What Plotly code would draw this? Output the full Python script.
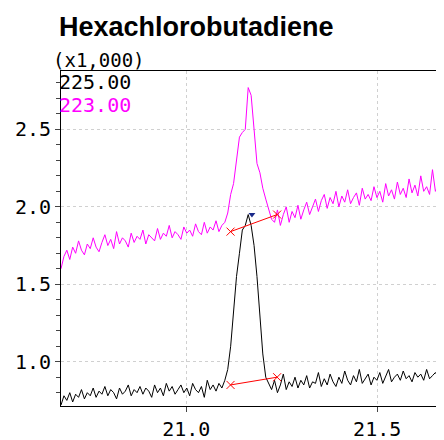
import plotly.graph_objects as go

t0 = 20.672
dt = 0.00766

m223 = [1.60,1.68,1.72,1.66,1.74,1.70,1.78,1.72,1.69,1.76,1.73,
        1.80,1.74,1.71,1.77,1.82,1.75,1.79,1.73,1.84,1.76,1.80,
        1.78,1.74,1.83,1.77,1.81,1.79,1.85,1.76,1.82,1.80,1.78,
        1.86,1.79,1.83,1.81,1.88,1.80,1.84,1.82,1.79,1.87,1.83,
        1.85,1.81,1.89,1.84,1.82,1.90,1.83,1.87,1.85,1.91,1.84,
        1.88,1.90,1.96,2.08,2.15,2.30,2.45,2.48,2.50,2.77,
        2.72,2.50,2.28,2.22,2.12,2.05,1.98,1.92,
        1.90,1.98,1.88,1.95,2.00,1.90,1.97,1.93,2.01,1.92,1.98,
        2.03,1.95,2.00,2.05,1.97,2.04,2.08,1.99,2.06,2.02,2.10,
        2.00,2.07,2.03,2.11,2.02,2.06,2.09,2.01,2.12,2.05,2.08,
        2.04,2.13,2.06,2.10,2.03,2.15,2.07,2.11,2.05,2.16,2.08,
        2.12,2.06,2.18,2.09,2.14,2.07,2.20,2.10,2.13,2.08,2.24,
        2.10,2.14,2.20,2.05]

m225 = [0.72,0.78,0.75,0.80,0.74,0.79,0.77,0.82,0.76,0.80,0.78,
        0.83,0.77,0.81,0.79,0.84,0.78,0.82,0.80,0.76,0.83,0.79,
        0.81,0.85,0.78,0.82,0.80,0.84,0.79,0.83,0.81,0.77,0.85,
        0.80,0.83,0.78,0.86,0.81,0.84,0.79,0.82,0.85,0.80,0.83,
        0.78,0.86,0.82,0.80,0.84,0.77,0.88,0.82,0.85,0.81,0.86,
        0.83,0.88,0.95,1.10,1.35,1.55,1.70,1.85,1.88,1.95,
        1.88,1.75,1.55,1.30,1.05,0.90,0.86,0.82,
        0.88,0.80,0.85,0.92,0.82,0.87,0.84,0.90,0.83,0.88,0.85,
        0.91,0.83,0.87,0.86,0.93,0.84,0.89,0.85,0.92,0.87,0.84,
        0.90,0.86,0.94,0.88,0.85,0.91,0.87,0.95,0.86,0.89,0.92,
        0.85,0.90,0.88,0.93,0.86,0.91,0.95,0.87,0.90,0.92,0.88,
        0.94,0.89,0.91,0.87,0.93,0.90,0.92,0.88,0.95,0.89,0.91,
        0.93,0.90,0.92,0.95]

times = [round(t0 + i * dt, 4) for i in range(len(m225))]

base_x = [21.116, 21.238]
base_225 = [0.85, 0.90]
base_223 = [1.84, 1.95]
peak_x = [21.172]
peak_y = [1.95]

mono = "DejaVu Sans Mono"
fig = go.Figure()
fig.add_trace(go.Scatter(x=times, y=m223, mode="lines", line=dict(color="#ff00ff", width=1)))
fig.add_trace(go.Scatter(x=times, y=m225, mode="lines", line=dict(color="black", width=1)))
for by in (base_225, base_223):
    fig.add_trace(go.Scatter(x=base_x, y=by, mode="lines+markers",
                             line=dict(color="red", width=1),
                             marker=dict(symbol="x-thin", size=8, line=dict(color="red", width=1))))
fig.add_trace(go.Scatter(x=peak_x, y=peak_y, mode="markers",
                         marker=dict(symbol="triangle-down", size=6, color="#1a2a8a")))

fig.update_layout(
    width=444, height=440, showlegend=False,
    plot_bgcolor="white", paper_bgcolor="white",
    margin=dict(l=50, r=7, t=63, b=36),
    font=dict(family=mono, color="black"),
)
fig.update_xaxes(range=[20.672, 21.675], tickvals=[21.0, 21.5], ticktext=["21.0", "21.5"],
                 showgrid=True, gridcolor="#d0d0d0", griddash="dot",
                 showline=True, linecolor="black", mirror=True, ticks="outside",
                 tickfont=dict(size=20), zeroline=False)
fig.update_yaxes(range=[0.714, 2.877], tickvals=[1.0, 1.5, 2.0, 2.5], ticktext=["1.0", "1.5", "2.0", "2.5"],
                 showgrid=True, gridcolor="#d0d0d0", griddash="dot",
                 showline=True, linecolor="black", mirror=True, ticks="outside",
                 minor=dict(dtick=0.1, ticks="outside", ticklen=4, showgrid=False),
                 tickfont=dict(size=20), zeroline=False)

fig.add_annotation(text="<b>Hexachlorobutadiene</b>", xref="paper", yref="paper", x=-0.01, y=1.13,
                   xanchor="left", yanchor="middle", showarrow=False,
                   font=dict(family="Liberation Sans", size=27, color="black"))
fig.add_annotation(text="(x1,000)", xref="paper", yref="paper", x=-0.025, y=0.995, xanchor="left",
                   yanchor="bottom", showarrow=False, font=dict(size=19))
fig.add_annotation(text="225.00", xref="paper", yref="paper", x=-0.01, y=1.01, xanchor="left",
                   yanchor="top", showarrow=False, font=dict(size=20, color="black"))
fig.add_annotation(text="223.00", xref="paper", yref="paper", x=-0.01, y=0.94, xanchor="left",
                   yanchor="top", showarrow=False, font=dict(size=20, color="#ff00ff"))

fig.write_html("out.html")
